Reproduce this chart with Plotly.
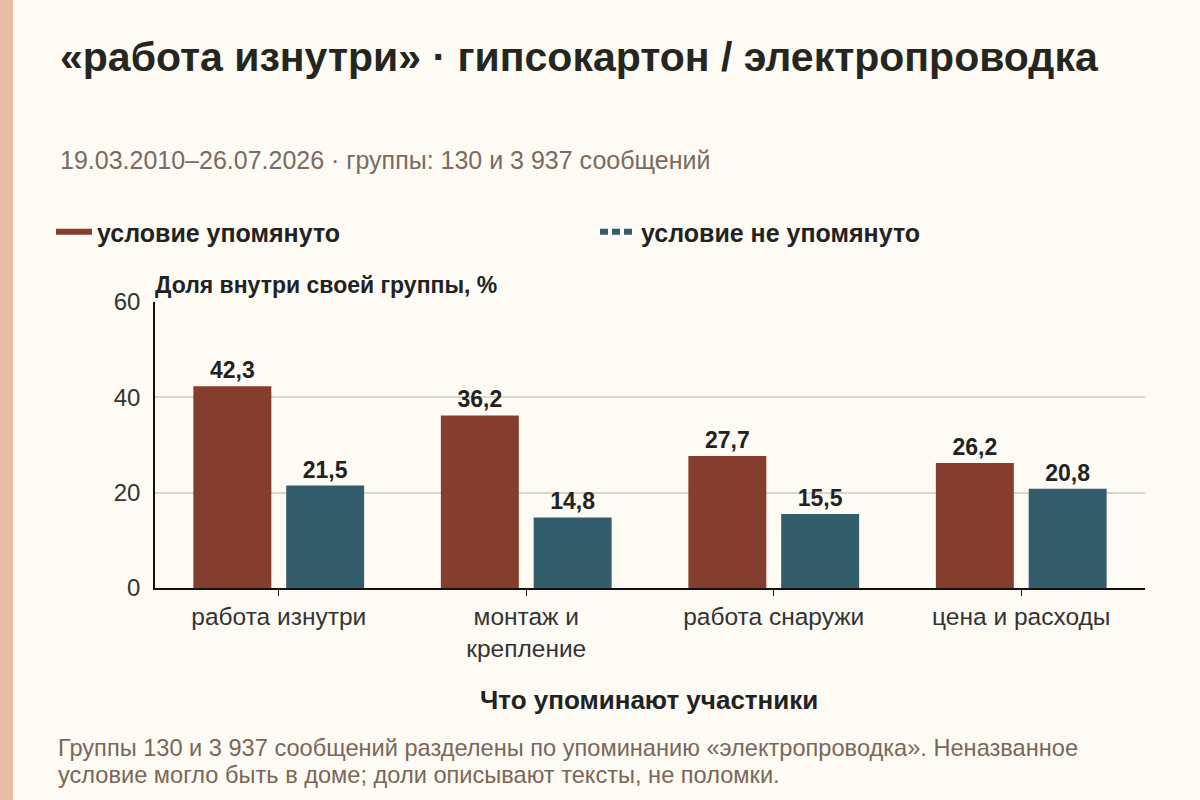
import plotly.graph_objects as go

categories = ["работа изнутри", "монтаж и<br>крепление", "работа снаружи", "цена и расходы"]
mentioned = [42.3, 36.2, 27.7, 26.2]
not_mentioned = [21.5, 14.8, 15.5, 20.8]
series_names = ["условие упомянуто", "условие не упомянуто"]
y_ticks = [0, 20, 40, 60]

RED = "#853e2e"
TEAL = "#345d6b"
BG = "#fdfbf4"
FONT = "Liberation Sans"

W, H = 1200, 800
L, R, T, B = 155, 55, 302, 212
PW, PH = W - L - R, H - T - B


def fmt(v):
    return f"{v:.1f}".replace(".", ",")


fig = go.Figure()
for name, vals, color in [(series_names[0], mentioned, RED), (series_names[1], not_mentioned, TEAL)]:
    fig.add_trace(go.Bar(
        x=categories, y=vals, name=name, marker_color=color, marker_line_width=0,
        text=[fmt(v) for v in vals], textposition="outside", cliponaxis=False,
        textfont=dict(family=FONT, size=23, color="#222222", weight="bold"),
        showlegend=False, hoverinfo="skip",
    ))

# legend entries drawn as lines, each in its own legend box
fig.add_trace(go.Scatter(x=[None], y=[None], mode="lines", name=series_names[0],
                         line=dict(color=RED, width=6), legend="legend"))
fig.add_trace(go.Scatter(x=[None], y=[None], mode="lines", name=series_names[1],
                         line=dict(color=TEAL, width=6, dash="8px,4px"), legend="legend2"))

legend_common = dict(orientation="h", xref="container", yref="container",
                     y=1 - 232 / H, yanchor="middle", xanchor="left", itemwidth=36,
                     font=dict(family=FONT, size=25, color="#222222", weight="bold"),
                     bgcolor="rgba(0,0,0,0)")

fig.update_layout(
    width=W, height=H,
    margin=dict(l=L, r=R, t=T, b=B),
    paper_bgcolor=BG, plot_bgcolor=BG,
    font=dict(family=FONT, color="#333333"),
    barmode="group", bargap=0.25, bargroupgap=0.16,
    legend=dict(x=51 / W, **legend_common),
    legend2=dict(x=595 / W, **legend_common),
    xaxis=dict(showline=True, linecolor="#111111", linewidth=1.5,
               ticks="outside", ticklen=6, tickcolor="#111111",
               tickfont=dict(family=FONT, size=24.5, color="#333333"),
               showgrid=False, fixedrange=True),
    yaxis=dict(range=[0, 60], tickvals=y_ticks, showline=True, linecolor="#111111", linewidth=1.5,
               showgrid=True, gridcolor="#d9d4cc", gridwidth=1.5, zeroline=False,
               tickfont=dict(family=FONT, size=24, color="#333333"), ticks="", ticklabelstandoff=8,
               fixedrange=True),
    shapes=[dict(type="rect", xref="paper", yref="paper",
                 x0=-L / PW, x1=(13 - L) / PW, y0=-B / PH - 0.1, y1=(H - B) / PH + 0.1,
                 fillcolor="#e8bfa5", line_width=0, layer="below")],
)

annos = [
    dict(text="«работа изнутри» · гипсокартон / электропроводка", x=58, y=57,
         size=41, bold=True, color="#262620"),
    dict(text="19.03.2010–26.07.2026 · группы: 130 и 3 937 сообщений", x=58, y=160,
         size=25, bold=False, color="#7a6a60"),
    dict(text="Доля внутри своей группы, %", x=153, y=285,
         size=23, bold=True, color="#222222"),
    dict(text="Группы 130 и 3 937 сообщений разделены по упоминанию «электропроводка». Неназванное",
         x=56, y=748, size=23.6, bold=False, color="#7b6658"),
    dict(text="условие могло быть в доме; доли описывают тексты, не поломки.",
         x=56, y=775, size=23.6, bold=False, color="#7b6658"),
]
for a in annos:
    fig.add_annotation(text=a["text"], xref="paper", yref="paper",
                       x=(a["x"] - L) / PW, y=1 - (a["y"] - T) / PH,
                       xanchor="left", yanchor="middle", showarrow=False, align="left",
                       font=dict(family=FONT, size=a["size"], color=a["color"],
                                 weight="bold" if a["bold"] else "normal"))

fig.add_annotation(text="Что упоминают участники", xref="paper", yref="paper",
                   x=(649 - L) / PW, y=1 - (700 - T) / PH, xanchor="center", yanchor="middle",
                   showarrow=False, font=dict(family=FONT, size=26, color="#222222", weight="bold"))

fig.write_html("out.html", config={"displayModeBar": False},
               post_script="document.body.style.margin='0';")
